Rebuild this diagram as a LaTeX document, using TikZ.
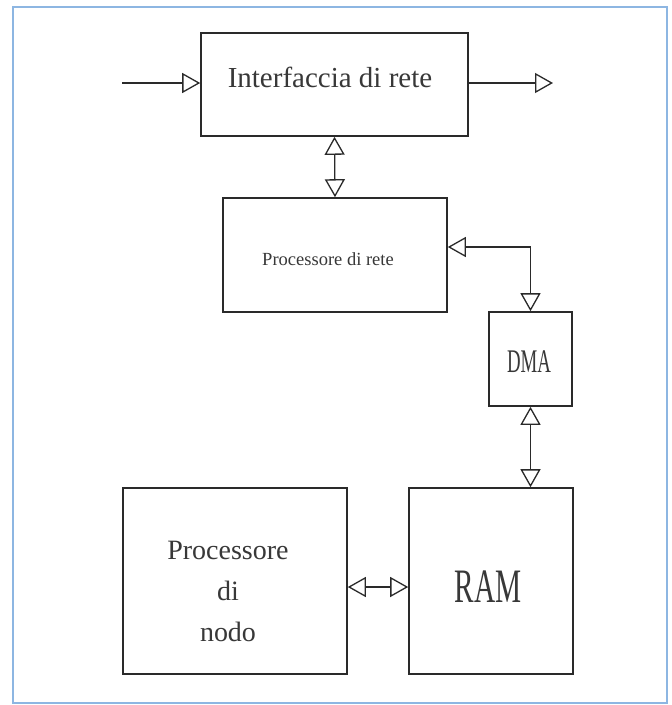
\documentclass[tikz,border=0pt]{standalone}
\usepackage{fontspec}
\usepackage{graphicx}
\setmainfont{Liberation Serif}
\usetikzlibrary{arrows.meta}
\definecolor{ink}{HTML}{2A2A2A}
\definecolor{textgray}{HTML}{383838}
\definecolor{frameblue}{HTML}{8DB6E2}

\begin{document}
\begin{tikzpicture}[x=1pt,y=-1pt,
  >={Triangle[open,length=18pt,width=20pt]},
  block/.style={draw=ink, line width=1.6pt, inner sep=0pt},
  link/.style={draw=ink, line width=1.3pt},
  lbl/.style={text=textgray, inner sep=0pt, anchor=base}]

  % page and frame
  \fill[white] (0,0) rectangle (672,705);
  \useasboundingbox (0,0) rectangle (672,705);
  \draw[frameblue, line width=2pt] (13,7) rectangle (667,703);

  % blocks
  \node[block, minimum width=267pt, minimum height=103pt] (ir)  at (334.5,84.5) {};
  \node[block, minimum width=224pt, minimum height=114pt] (pr)  at (335,255) {};
  \node[block, minimum width=83pt,  minimum height=94pt]  (dma) at (530.5,359) {};
  \node[block, minimum width=224pt, minimum height=186pt] (pn)  at (235,581) {};
  \node[block, minimum width=164pt, minimum height=186pt] (ram) at (491,581) {};

  % labels
  \node[lbl, font=\fontsize{29}{35}\selectfont] (irt) at (330,87) {Interfaccia di rete};
  \node[lbl, font=\fontsize{18.5}{22}\selectfont] (prt) at (328,265) {Processore di rete};
  \node[lbl, font=\fontsize{33}{40}\selectfont] (dmat) at (529,372) {\scalebox{0.57}[1]{DMA}};
  \node[lbl, font=\fontsize{48}{56}\selectfont] (ramt) at (488,602) {\scalebox{0.61}[1]{RAM}};
  \node[text=textgray, inner sep=0pt, align=center, font=\fontsize{28}{41}\selectfont] (pnt) at (228,591) {Processore\\di\\nodo};

  % connectors
  \coordinate (in)  at (122,83);
  \coordinate (out) at (553,83);
  \draw[link,->] (in) -- (in -| ir.west);
  \draw[link,->] (out -| ir.east) -- (out);
  \draw[link,<->] (ir.south) -- (pr.north);
  \draw[link,<->] ([yshift=8pt]pr.east) -| (dma.north);
  \draw[link,<->] (dma.south) -- (dma.south |- ram.north);
  \draw[link,<->] ([yshift=-6pt]pn.east) -- ([yshift=-6pt]ram.west);
\end{tikzpicture}
\end{document}
